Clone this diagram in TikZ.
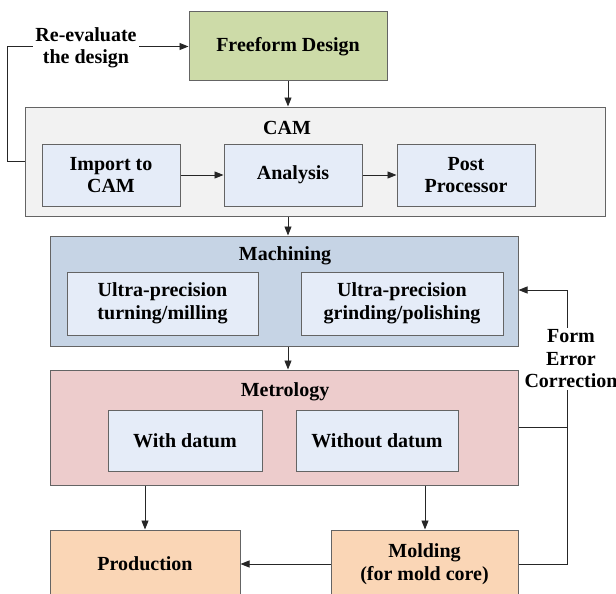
\documentclass[tikz,border=0pt]{standalone}
\usepackage{fontspec}
\setmainfont{Liberation Serif}
\usetikzlibrary{arrows.meta,calc}
\definecolor{cgreen}{RGB}{205,219,168}
\definecolor{cgrey}{RGB}{242,242,242}
\definecolor{cinner}{RGB}{229,236,248}
\definecolor{cmach}{RGB}{198,212,229}
\definecolor{cmet}{RGB}{237,204,204}
\definecolor{corange}{RGB}{250,214,182}
\definecolor{cline}{RGB}{100,100,100}
\begin{document}
\begin{tikzpicture}[x=1pt,y=-1pt,
  every node/.style={font=\fontsize{20}{22.5}\selectfont\bfseries, align=center, inner sep=0pt},
  box/.style={draw=cline, line width=1pt, minimum width=#1},
  arr/.style={-{Triangle[length=9pt,width=7pt]}, line width=0.9pt, draw=black!85},
  ln/.style={line width=0.9pt, draw=black!85},
  lab/.style={fill=white, inner sep=2pt}]
\useasboundingbox (0,0) rectangle (616,594);
\clip (0,0) rectangle (616,594);
% boxes
\node[box=198pt, minimum height=69pt, fill=cgreen] (design) at (288,46.5) {Freeform Design};
\node[box=580pt, minimum height=109pt, fill=cgrey] (cam) at (315,161.5) {};
\node (camt) at (287,128) {CAM};
\node[box=138pt, minimum height=62pt, fill=cinner] (imp) at (111,175) {Import to\\CAM};
\node[box=138pt, minimum height=62pt, fill=cinner] (ana) at (293,175) {Analysis};
\node[box=138pt, minimum height=62pt, fill=cinner] (post) at (466,175) {Post\\Processor};
\node[box=468pt, minimum height=110pt, fill=cmach] (mach) at (284,291) {};
\node (macht) at (285,256) {Machining};
\node[box=191pt, minimum height=63pt, fill=cinner] (turn) at (162.5,303.5) {Ultra-precision\\turning/milling};
\node[box=202pt, minimum height=63pt, fill=cinner] (grind) at (402,303.5) {Ultra-precision\\grinding/polishing};
\node[box=468pt, minimum height=115pt, fill=cmet] (met) at (284,427.5) {};
\node (mett) at (285,392) {Metrology};
\node[box=154pt, minimum height=61pt, fill=cinner] (with) at (185,440.5) {With datum};
\node[box=162pt, minimum height=61pt, fill=cinner] (without) at (377,440.5) {Without datum};
\node[box=190pt, minimum height=68pt, fill=corange] (prod) at (145,564) {Production};
\node[box=187pt, minimum height=68pt, fill=corange] (mold) at (424.5,564) {Molding\\(for mold core)};
% connectors
\coordinate (xl) at (7,0);
\coordinate (xr) at (567,0);
\draw[arr] (design.south) -- (design.south |- cam.north);
\draw[arr] (design.south |- cam.south) -- (design.south |- mach.north);
\draw[arr] (design.south |- mach.south) -- (design.south |- met.north);
\draw[arr] (imp.east) -- (ana.west);
\draw[arr] (ana.east) -- (post.west);
\draw[arr] (met.south -| 145,0) -- (prod.north -| 145,0);
\draw[arr] (met.south -| 425,0) -- (mold.north -| 425,0);
\draw[arr] (mold.west) -- (prod.east);
\draw[arr] (cam.west) -- (xl |- cam.west) -- (xl |- design.west) -- (design.west);
\node[lab] (reeval) at (86,48) {Re-evaluate\\the design};
\coordinate (fe) at (567,290);
\draw[ln] (mold.east) -- (xr |- mold.east) -- (fe);
\draw[arr] (fe) -- (fe -| mach.east);
\draw[ln] (met.east |- 0,427) -- (xr |- 0,427);
\node[lab] (fec) at (571,359) {Form\\Error\\Correction};
\end{tikzpicture}
\end{document}
